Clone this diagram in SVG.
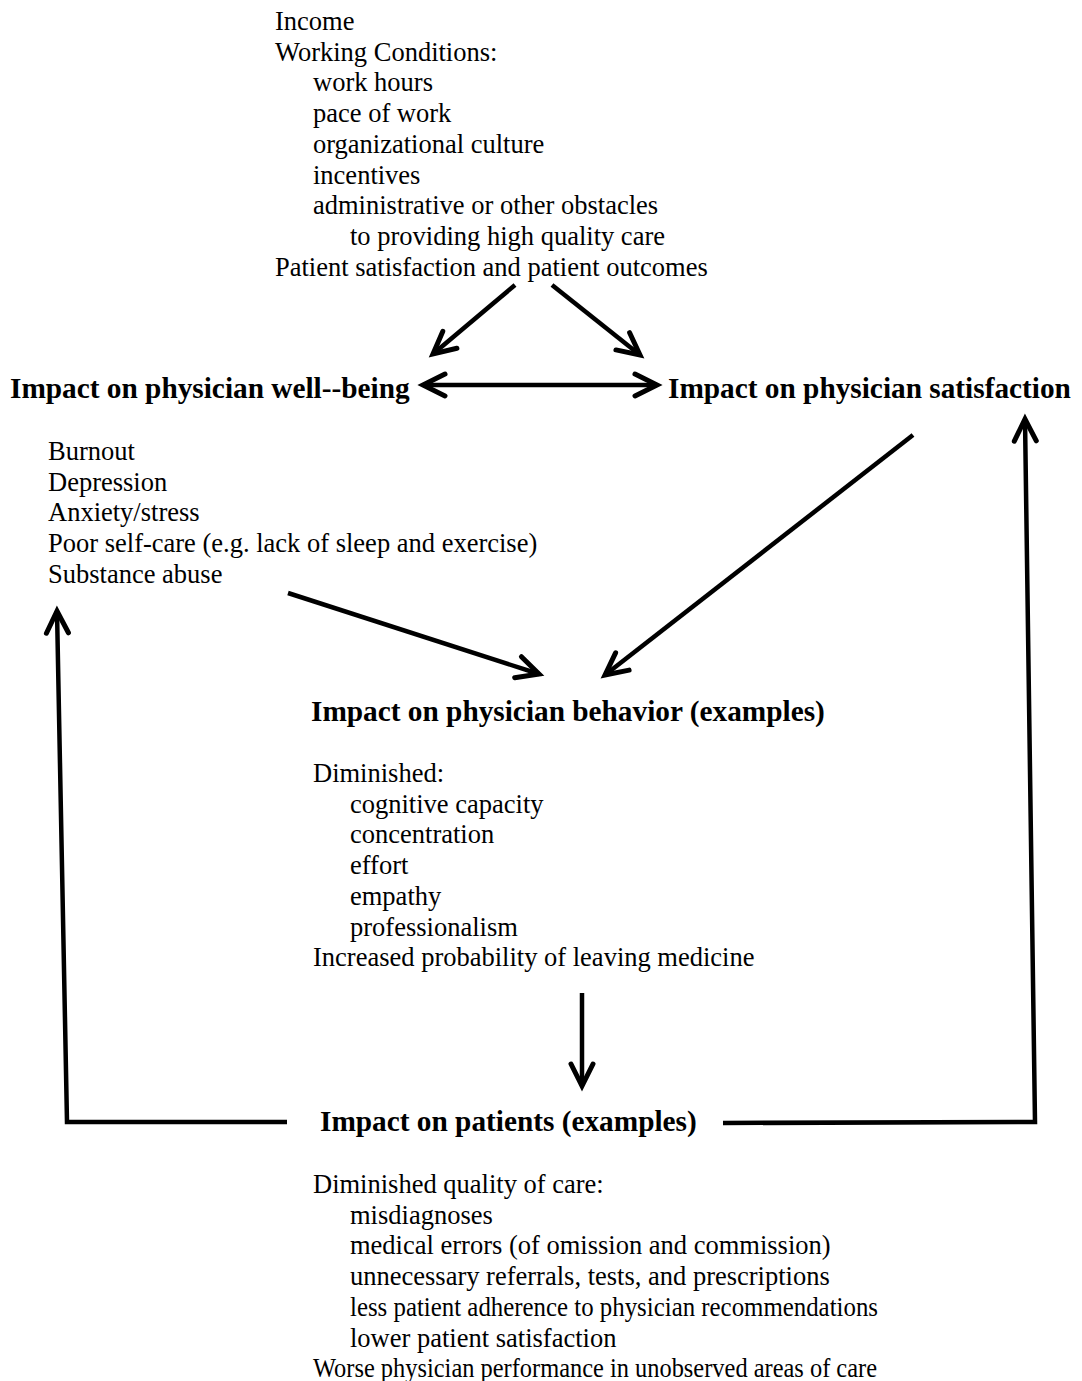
<svg xmlns="http://www.w3.org/2000/svg" width="1082" height="1381" viewBox="0 0 1082 1381">
<style>
text{font-family:"Liberation Serif","Times New Roman",serif;fill:#000}
.t{font-size:26.5px}
.h{font-size:29.3px;font-weight:bold}
.c{fill:none;stroke:#000;stroke-width:4.5;stroke-linejoin:miter}
</style>
<defs>
<marker id="ah" markerUnits="userSpaceOnUse" orient="auto-start-reverse" refX="0" refY="0" markerWidth="40" markerHeight="40" viewBox="-30 -20 40 40" overflow="visible">
<path d="M-22,-11 L0,0 L-22,11" fill="none" stroke="#000" stroke-width="5" stroke-linecap="round" stroke-linejoin="miter"/>
</marker>
</defs>
<rect width="1082" height="1381" fill="#fff"/>
<g id="factors">
<text class="t" x="275" y="30">Income</text>
<text class="t" x="275" y="60.7">Working Conditions:</text>
<text class="t" x="313" y="91.4">work hours</text>
<text class="t" x="313" y="122.1">pace of work</text>
<text class="t" x="313" y="152.8">organizational culture</text>
<text class="t" x="313" y="183.5">incentives</text>
<text class="t" x="313" y="214.2">administrative or other obstacles</text>
<text class="t" x="350" y="244.9">to providing high quality care</text>
<text class="t" x="275" y="275.6">Patient satisfaction and patient outcomes</text>
</g>
<g id="wellbeing">
<text class="h" x="10" y="398">Impact on physician well--being</text>
<text class="t" x="48" y="460">Burnout</text>
<text class="t" x="48" y="490.7">Depression</text>
<text class="t" x="48" y="521.4">Anxiety/stress</text>
<text class="t" x="48" y="552.1">Poor self-care (e.g. lack of sleep and exercise)</text>
<text class="t" x="48" y="582.8">Substance abuse</text>
</g>
<g id="satisfaction">
<text class="h" x="668" y="398">Impact on physician satisfaction</text>
</g>
<g id="behavior">
<text class="h" x="311" y="721">Impact on physician behavior (examples)</text>
<text class="t" x="313" y="782">Diminished:</text>
<text class="t" x="350" y="812.7">cognitive capacity</text>
<text class="t" x="350" y="843.4">concentration</text>
<text class="t" x="350" y="874.1">effort</text>
<text class="t" x="350" y="904.8">empathy</text>
<text class="t" x="350" y="935.5">professionalism</text>
<text class="t" x="313" y="966.2">Increased probability of leaving medicine</text>
</g>
<g id="patients">
<text class="h" x="320" y="1131">Impact on patients (examples)</text>
<text class="t" x="313" y="1193">Diminished quality of care:</text>
<text class="t" x="350" y="1223.7">misdiagnoses</text>
<text class="t" x="350" y="1254.4">medical errors (of omission and commission)</text>
<text class="t" x="350" y="1285.1">unnecessary referrals, tests, and prescriptions</text>
<text class="t" x="350" y="1315.8" textLength="528" lengthAdjust="spacingAndGlyphs">less patient adherence to physician recommendations</text>
<text class="t" x="350" y="1346.5">lower patient satisfaction</text>
<text class="t" x="313" y="1377.2" textLength="564" lengthAdjust="spacingAndGlyphs">Worse physician performance in unobserved areas of care</text>
</g>
<g id="connectors">
<line class="c" x1="515" y1="285" x2="433" y2="354" marker-end="url(#ah)"/>
<line class="c" x1="552" y1="285" x2="640" y2="355" marker-end="url(#ah)"/>
<line class="c" x1="423" y1="385" x2="657" y2="385" marker-start="url(#ah)" marker-end="url(#ah)"/>
<line class="c" x1="288" y1="593" x2="539" y2="674" marker-end="url(#ah)"/>
<line class="c" x1="913" y1="435" x2="605" y2="675" marker-end="url(#ah)"/>
<line class="c" x1="582" y1="993" x2="582" y2="1086" marker-end="url(#ah)"/>
<polyline class="c" points="287,1122 67,1122 57,611" marker-end="url(#ah)"/>
<polyline class="c" points="723,1123 1035,1122 1025,419" marker-end="url(#ah)"/>
</g>
</svg>
